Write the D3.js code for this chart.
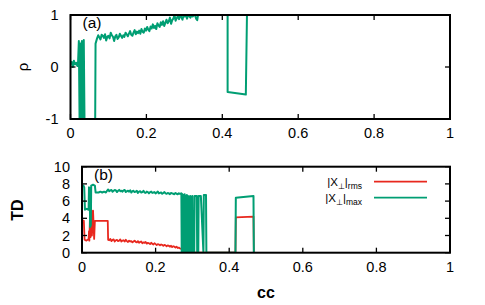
<!DOCTYPE html>
<html>
<head>
<meta charset="utf-8">
<script src="https://cdn.jsdelivr.net/npm/d3@7"></script>
<style>
  html, body { margin: 0; padding: 0; background: #fff; }
  svg text { font-family: "Liberation Sans", Arial, sans-serif; fill: #000; }
</style>
</head>
<body>
<svg id="chart" width="485" height="305"></svg>
<script>
'use strict';

/* panel (a): rho vs cc */
const rhoCc = [0,0.003,0.006,0.009,0.012,0.015,0.018,0.020,0.022,0.024,0.026,0.028,0.030,0.032,0.035,0.037,0.065,0.066,
  0.070,0.073,0.076,0.079,0.082,0.085,0.088,0.091,0.094,0.097,0.100,0.103,0.106,0.109,0.112,0.115,0.118,0.121,0.124,0.127,
  0.130,0.133,0.136,0.139,0.142,0.145,0.148,0.151,0.154,0.157,0.160,0.163,0.166,0.169,0.172,0.175,0.178,0.181,0.184,0.187,
  0.190,0.193,0.196,0.199,0.202,0.205,0.208,0.211,0.214,0.217,0.220,0.223,0.226,0.229,0.232,0.235,0.238,0.241,0.244,0.247,
  0.250,0.253,0.256,0.259,0.262,0.265,0.268,0.271,0.274,0.277,0.280,0.283,0.286,0.289,0.292,0.295,0.298,0.301,0.304,0.307,
  0.310,0.313,0.316,0.319,0.322,0.325,0.328,0.331,0.334,0.336,0.414,0.414,0.462,0.465];
const rhoVal = [0.05,0.10,0.00,0.12,0.05,0.08,0.02,0.10,0.50,-1.1,0.45,-1.1,0.50,-1.1,0.52,-1.1,-1.1,0.45,
  0.55,0.61,0.57,0.53,0.62,0.60,0.56,0.63,0.51,0.58,0.60,0.55,0.66,0.61,0.58,0.50,0.59,0.62,0.54,0.57,
  0.64,0.60,0.56,0.61,0.58,0.66,0.63,0.59,0.64,0.69,0.62,0.60,0.66,0.71,0.63,0.68,0.65,0.70,0.64,0.73,
  0.68,0.66,0.74,0.70,0.77,0.72,0.69,0.78,0.74,0.82,0.75,0.79,0.73,0.84,0.80,0.77,0.86,0.81,0.88,0.79,
  0.85,0.91,0.84,0.88,0.95,0.83,0.90,0.93,1.0,0.89,0.94,0.98,0.92,1.0,0.96,0.91,1.0,0.97,1.0,0.93,
  1.0,0.98,0.95,1.0,0.97,1.0,1.0,0.93,0.90,1.0,1.0,-0.48,-0.53,1.0];

/* panel (b): TD vs cc */
const maxCc = [0,0.004,0.006,0.008,0.012,0.018,0.019,0.021,0.022,0.024,0.025,0.030,0.035,0.037,0.045,0.050,0.055,0.060,0.065,
  0.068,0.071,0.074,0.077,0.080,0.083,0.086,0.089,0.092,0.095,0.098,0.101,0.104,0.107,0.110,0.113,0.116,0.119,0.122,0.125,
  0.128,0.131,0.134,0.137,0.140,0.143,0.146,0.149,0.152,0.155,0.158,0.161,0.164,0.167,0.170,0.173,0.176,0.179,0.182,0.185,
  0.188,0.191,0.194,0.197,0.200,0.203,0.206,0.209,0.212,0.215,0.218,0.221,0.224,0.227,0.230,0.233,0.236,0.239,0.242,0.245,
  0.248,0.251,0.254,0.257,0.260,0.263,0.266,0.270,
  0.271,0.273,0.274,0.276,0.277,0.279,0.280,0.282,0.283,0.285,0.286,0.288,0.289,0.291,0.292,0.294,0.295,0.297,0.298,0.300,
  0.301,0.305,0.306,0.312,0.313,0.316,0.317,0.323,0.330,0.331,0.337,0.338,0.417,0.418,0.466,0.467];
const maxVal = [7.7,7.8,7.6,5.0,5.1,5.0,7.6,7.5,3.0,3.2,7.8,7.9,7.8,7.0,7.0,7.1,7.0,7.1,7.0,
  7.2,7.35,7.15,7.25,7.3,7.1,7.2,7.3,7.25,7.05,7.2,7.3,7.15,7.2,7.1,7.25,7.3,7.05,7.15,7.2,
  7.1,7.25,7.0,7.15,7.2,7.05,7.1,7.2,6.95,7.1,7.15,7.0,7.05,7.2,7.0,6.95,7.1,7.05,6.9,7.05,
  7.1,6.95,7.0,7.05,6.9,7.0,7.1,6.9,6.95,7.0,6.85,6.95,7.05,6.9,6.85,6.95,6.9,6.8,6.95,6.9,
  6.85,6.8,6.95,6.85,6.8,6.9,6.85,6.9,
  0,6.8,0,6.7,0,6.8,0,6.6,0,6.7,0,6.6,0,6.5,0,6.6,0,6.5,0,6.6,
  0,0,6.6,6.6,0,0,6.6,6.6,0,6.7,6.7,0,0,6.4,6.6,0];

const rmsCc = [0,0.005,0.007,0.012,0.018,0.019,0.020,0.022,0.023,0.025,0.027,0.030,0.033,0.035,0.070,0.071,
  0.074,0.077,0.080,0.083,0.086,0.089,0.092,0.095,0.098,0.101,0.104,0.107,0.110,0.113,0.116,0.119,0.122,0.125,0.128,
  0.131,0.134,0.137,0.140,0.143,0.146,0.149,0.152,0.155,0.158,0.161,0.164,0.167,0.170,0.173,0.176,0.179,0.182,0.185,0.188,
  0.191,0.194,0.197,0.200,0.203,0.206,0.209,0.212,0.215,0.218,0.221,0.224,0.227,0.230,0.233,0.236,0.239,0.242,0.245,0.248,
  0.251,0.254,0.257,0.260,0.263,0.266,0.270,0.275,0.280,0.285,0.290,0.294,0.296,0.300,0.417,0.418,0.466,0.467];
const rmsVal = [3.8,3.7,1.5,1.4,1.6,2.5,1.4,4.9,1.8,5.0,2.0,4.9,1.6,3.7,3.7,1.5,
  1.45,1.6,1.35,1.5,1.55,1.3,1.45,1.5,1.35,1.4,1.55,1.3,1.4,1.45,1.3,1.5,1.35,1.25,1.4,
  1.3,1.35,1.2,1.3,1.4,1.25,1.2,1.35,1.15,1.25,1.3,1.1,1.2,1.15,1.25,1.05,1.15,1.1,1.0,1.15,
  1.05,0.95,1.1,1.0,0.9,1.0,0.95,0.85,0.95,0.9,0.8,0.9,0.85,0.75,0.85,0.8,0.7,0.8,0.65,0.75,
  0.7,0.6,0.7,0.55,0.6,0.5,0.45,0.35,0.3,0.2,0.1,-0.3,0.0,0.0,0.0,4.1,4.2,0.0];

const xTicks = [0, 0.2, 0.4, 0.6, 0.8, 1];
const rhoTicks = [-1, 0, 1];
const tdTicks = [0, 2, 4, 6, 8, 10];

const GREEN = '#009e73', RED = '#e8281e';
const svg = d3.select('#chart');

function panel(box, yDomain, yTicks, tag, id) {
  const x = d3.scaleLinear().domain([0, 1]).range([box.l, box.r]);
  const y = d3.scaleLinear().domain(yDomain).range([box.b, box.t]);
  const g = svg.append('g');
  g.append('clipPath').attr('id', id).append('rect')
    .attr('x', box.l).attr('y', box.t).attr('width', box.r - box.l).attr('height', box.b - box.t);
  const plot = g.append('g').attr('clip-path', `url(#${id})`);

  /* inside ticks, mirrored */
  const tk = g.append('g').attr('stroke', '#000').attr('stroke-width', 1.3);
  xTicks.forEach(v => {
    tk.append('line').attr('x1', x(v)).attr('x2', x(v)).attr('y1', box.b).attr('y2', box.b - 5);
    tk.append('line').attr('x1', x(v)).attr('x2', x(v)).attr('y1', box.t).attr('y2', box.t + 5);
    g.append('text').attr('x', x(v)).attr('y', box.b + 19).attr('text-anchor', 'middle')
      .style('font-size', '14.5px').text(v);
  });
  yTicks.forEach(v => {
    tk.append('line').attr('x1', box.l).attr('x2', box.l + 5).attr('y1', y(v)).attr('y2', y(v));
    tk.append('line').attr('x1', box.r).attr('x2', box.r - 5).attr('y1', y(v)).attr('y2', y(v));
    g.append('text').attr('x', box.l - 12).attr('y', y(v) + 5).attr('text-anchor', 'end')
      .style('font-size', '14.5px').text(v);
  });
  g.append('text').attr('x', box.l + 12).attr('y', box.t + 13).style('font-size', '15.5px').text(tag);
  return { x, y, g, plot };
}

function drawLine(p, xs, ys, color, w) {
  const pts = xs.map((c, i) => [c, ys[i]]);
  p.plot.append('path').datum(pts)
    .attr('fill', 'none').attr('stroke', color).attr('stroke-width', w).attr('stroke-linejoin', 'round')
    .attr('d', d3.line().x(d => p.x(d[0])).y(d => p.y(d[1])));
}

function frame(p, box) {
  p.g.append('rect').attr('x', box.l).attr('y', box.t)
    .attr('width', box.r - box.l).attr('height', box.b - box.t)
    .attr('fill', 'none').attr('stroke', '#000').attr('stroke-width', 2);
}

/* panel (a) */
const boxA = { l: 70.5, r: 450, t: 15, b: 119 };
const pa = panel(boxA, [-1, 1], rhoTicks, '(a)', 'clipA');
drawLine(pa, rhoCc, rhoVal, GREEN, 2);
frame(pa, boxA);
svg.append('text').attr('transform', 'translate(28,67) rotate(-90)').attr('text-anchor', 'middle')
  .style('font-size', '15px').text('ρ');

/* panel (b) */
const boxB = { l: 82, r: 450, t: 166.7, b: 252.7 };
const pb = panel(boxB, [0, 10], tdTicks, '(b)', 'clipB');
drawLine(pb, rmsCc, rmsVal, RED, 1.8);
drawLine(pb, maxCc, maxVal, GREEN, 2);
frame(pb, boxB);
svg.append('text').attr('transform', 'translate(23,210) rotate(-90)').attr('text-anchor', 'middle')
  .style('font-size', '16px').style('font-weight', 'bold').text('TD');
svg.append('text').attr('x', 266).attr('y', 298).attr('text-anchor', 'middle')
  .style('font-size', '16px').style('font-weight', 'bold').text('cc');

/* legend */
const legend = [['rms', RED, 181.7], ['max', GREEN, 197.7]];
legend.forEach(([sub, col, ly]) => {
  const t = svg.append('text').attr('x', 362).attr('y', ly + 4).attr('text-anchor', 'end').style('font-size', '11.5px');
  t.append('tspan').text('|X');
  t.append('tspan').attr('dy', 3).style('font-size', '8px').text('⊥');
  t.append('tspan').attr('dy', -3).text('|');
  t.append('tspan').attr('dy', 3).style('font-size', '8.5px').text(sub);
  svg.append('line').attr('x1', 374).attr('x2', 427).attr('y1', ly).attr('y2', ly)
    .attr('stroke', col).attr('stroke-width', 1.8);
});
</script>
</body>
</html>
